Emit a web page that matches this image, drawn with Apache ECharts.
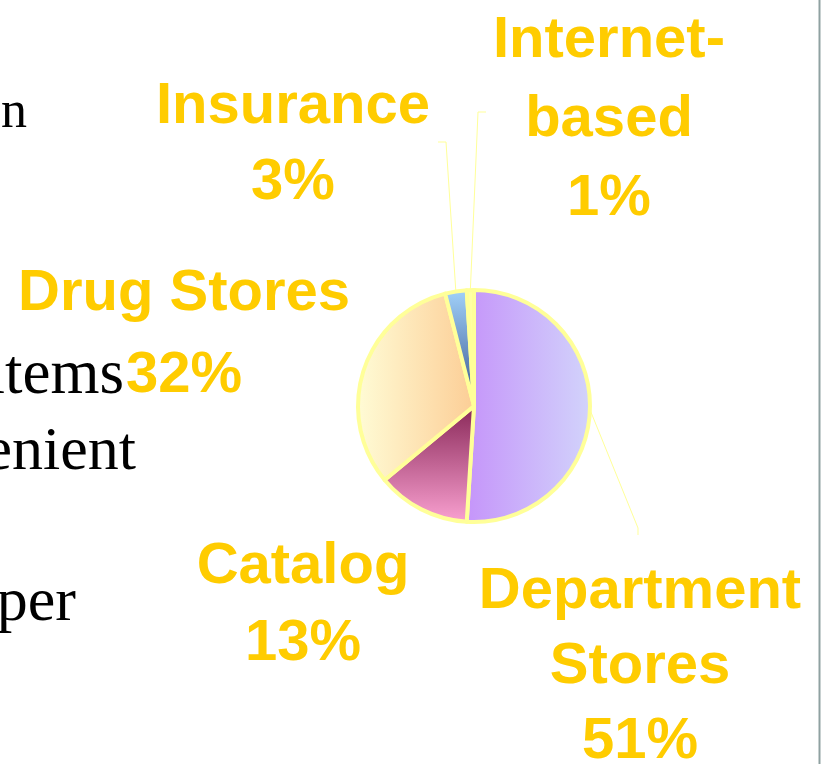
<!DOCTYPE html>
<html>
<head>
<meta charset="utf-8">
<script src="https://cdn.jsdelivr.net/npm/echarts@6/dist/echarts.min.js"></script>
<style>
  html, body { margin: 0; padding: 0; background: #ffffff; }
  #chart { width: 823px; height: 764px; }
</style>
</head>
<body>
<div id="chart"></div>
<script>
// Channel names and their share of sales (percent)
const categories = ['Department\nStores', 'Catalog', 'Drug Stores', 'Insurance', 'Internet-\nbased'];
const shares = [51, 13, 32, 3, 1];

// Slide body text running behind the chart on the left
const noteWords = ['in', 'items', 'convenient', 'shopper'];

// Gradient fill for each slice: direction and colour stops
const sliceFills = [
  { dir: 'h', from: '#c594fa', to: '#d2d4fb' },
  { dir: 'v', from: '#872656', to: '#fba2d2' },
  { dir: 'h', from: '#fffcd6', to: '#fccd95' },
  { dir: 'v', from: '#a3d3fb', to: '#33508b' },
  { dir: 'v', from: '#ffffa6', to: '#ffff99' }
];

// Label anchor (centre x, top y), line height and leader-line bends relative to the anchor
const labelPlacement = [
  { x: 640, y: 554.5, lineHeight: 75, guide: [[-2, -26.5], [-2, -19.5]] },
  { x: 303, y: 528, lineHeight: 77, guide: null },
  { x: 184, y: 253, lineHeight: 82, guide: null },
  { x: 293, y: 69, lineHeight: 76, guide: [[153, 73], [145, 73]] },
  { x: 609, y: 1, lineHeight: 79, guide: [[-131, 111], [-123, 111]] }
];

const chart = echarts.init(document.getElementById('chart'), null, { renderer: 'canvas' });

function fillFor(f) {
  return f.dir === 'h'
    ? new echarts.graphic.LinearGradient(0, 0, 1, 0, [{ offset: 0, color: f.from }, { offset: 1, color: f.to }])
    : new echarts.graphic.LinearGradient(0, 0, 0, 1, [{ offset: 0, color: f.from }, { offset: 1, color: f.to }]);
}

const pieData = categories.map((name, i) => ({
  name: name,
  value: shares[i],
  itemStyle: { color: fillFor(sliceFills[i]) },
  label: { lineHeight: labelPlacement[i].lineHeight },
  labelLine: { show: !!labelPlacement[i].guide }
}));

const serifStyle = (text, x, y, size) => ({
  type: 'text',
  x: x,
  y: y,
  silent: true,
  style: {
    text: text,
    fill: '#000000',
    font: size + 'px "Liberation Serif", "Times New Roman", serif',
    align: 'right',
    verticalAlign: 'middle'
  }
});

chart.setOption({
  backgroundColor: '#ffffff',
  animation: false,
  graphic: [
    serifStyle(noteWords[0], 27, 113, 52),
    serifStyle(noteWords[1], 124, 376, 63),
    serifStyle(noteWords[2], 136, 453, 62),
    serifStyle(noteWords[3], 76, 604, 62),
    {
      type: 'line',
      silent: true,
      shape: { x1: 819.5, y1: 0, x2: 819.5, y2: 764 },
      style: { stroke: '#8fa1a1', lineWidth: 2 }
    }
  ],
  series: [{
    type: 'pie',
    center: [474, 406],
    radius: 116,
    startAngle: 90,
    clockwise: true,
    avoidLabelOverlap: false,
    emphasis: { disabled: true },
    itemStyle: { borderColor: '#ffff99', borderWidth: 4 },
    label: {
      show: true,
      position: 'outside',
      formatter: '{b}\n{c}%',
      color: '#ffcc00',
      fontFamily: '"Liberation Sans", Arial, sans-serif',
      fontWeight: 'bold',
      fontSize: 58,
      width: 420,
      overflow: 'none',
      align: 'center',
      textBorderWidth: 0
    },
    labelLine: {
      lineStyle: { color: '#ffff99', width: 1 }
    },
    labelLayout: function (params) {
      const p = labelPlacement[params.dataIndex];
      const out = { x: p.x, y: p.y, align: 'center', verticalAlign: 'top' };
      if (p.guide && params.labelLinePoints) {
        const start = params.labelLinePoints[0];
        out.labelLinePoints = [start].concat(p.guide.map(g => [p.x + g[0], p.y + g[1]]));
      }
      return out;
    },
    data: pieData
  }]
});
</script>
</body>
</html>
